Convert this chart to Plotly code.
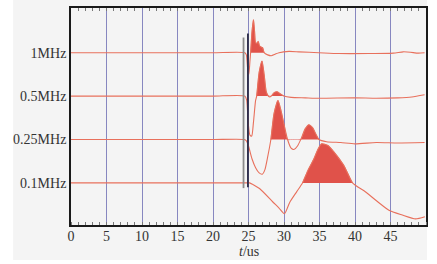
import plotly.graph_objects as go
import numpy as np

# ---------------- data ----------------
band_labels = ["0.1MHz", "0.25MHz", "0.5MHz", "1MHz"]
band_levels = [1, 2, 3, 4]

t_1m = [0, 10, 20, 24.5, 24.7, 24.9, 25.05, 25.2, 25.3, 25.5, 25.7, 25.85, 26.0, 26.2, 26.37, 26.55, 26.75, 26.97, 27.2,
        27.7, 28.2, 28.8, 29.3, 30.7, 32.1, 34.9, 37.7, 41.9, 45.4, 46.8, 47.8, 48.9, 49.8]
v_1m = [4.0, 4.0, 4.0, 4.0, 3.95, 3.6, 3.5, 3.8, 4.0, 4.5, 4.76, 4.5, 4.23, 4.22, 4.26, 4.16, 4.13, 4.12, 4.0,
        3.95, 3.93, 3.97, 4.0, 4.03, 4.02, 4.0, 3.98, 3.98, 3.99, 4.02, 4.01, 3.99, 4.0]

t_05m = [0, 10, 20, 24.5, 24.75, 24.95, 25.2, 25.45, 25.7, 26.0, 26.15, 26.5, 26.9, 27.2, 27.5, 27.8, 28.0, 28.2,
         28.6, 29.03, 29.4, 30.0, 31.0, 33.0, 35.0, 40.0, 43.0, 46.0, 48.0, 49.8]
v_05m = [3.0, 3.0, 3.0, 3.0, 2.9, 2.4, 2.1, 2.08, 2.4, 2.9, 3.0, 3.55, 3.81, 3.5, 3.1, 3.0, 2.98, 3.0,
         3.08, 3.1, 3.06, 3.0, 2.97, 2.96, 2.95, 2.96, 2.95, 2.96, 2.98, 3.03]

t_025m = [0, 10, 20, 24.4, 24.7, 25.0, 25.5, 26.0, 26.5, 26.93, 27.3, 27.7, 28.15, 28.6, 29.15, 29.6, 30.0, 30.5,
          31.0, 31.4, 31.9, 32.36, 33.0, 33.5, 34.0, 34.5, 34.92, 36.0, 38.0, 40.0, 43.0, 46.0, 49.8]
v_025m = [2.0, 2.0, 2.0, 2.0, 1.97, 1.85, 1.55, 1.35, 1.23, 1.2, 1.3, 1.6, 2.0, 2.6, 2.9, 2.65, 2.35, 2.0,
          1.8, 1.77, 1.85, 2.0, 2.25, 2.34, 2.28, 2.12, 2.0, 1.95, 1.93, 1.9, 1.93, 1.92, 1.93]

t_01m = [0, 10, 20, 25.0, 25.15, 26.55, 28.43, 29.3, 30.06, 30.8, 31.8, 32.6, 33.4, 34.2, 34.8, 35.3, 36.2, 37.0,
         38.4, 39.65, 41.5, 44.78, 46.66, 48.53, 49.84]
v_01m = [1.0, 1.0, 1.0, 1.0, 1.0, 0.87, 0.56, 0.42, 0.29, 0.55, 0.8, 1.0, 1.3, 1.55, 1.78, 1.9, 1.86, 1.72,
         1.41, 1.0, 0.79, 0.37, 0.26, 0.17, 0.22]

# intervals (t, us) where the positive lobes are shaded
fill_1m = [25.3, 27.2]
fill_05m = [26.15, 30.0]
fill_025m = [28.15, 34.92]
fill_01m = [32.6, 39.65]

# arrival markers (t, us) with their vertical extents
marker_t = [24.3, 24.92]
marker_lo = [0.88, 0.9]
marker_hi = [4.35, 4.44]

x_ticks = list(range(0, 50, 5))

# ---------------- figure ----------------
LINE = "#e8705c"
FILL = "#e0524a"

fig = go.Figure()

series = [(t_1m, v_1m, 4, fill_1m), (t_05m, v_05m, 3, fill_05m),
          (t_025m, v_025m, 2, fill_025m), (t_01m, v_01m, 1, fill_01m)]

for t, v, base, (a, b) in series:
    t = np.array(t, float)
    v = np.array(v, float)
    m = (t >= a) & (t <= b)
    ft = np.concatenate([[a], t[m], [b]])
    fv = np.concatenate([[base], np.maximum(v[m], base), [base]])
    fig.add_trace(go.Scatter(x=ft, y=fv, mode="lines", fill="toself", fillcolor=FILL,
                             line=dict(color=FILL, width=0.5, shape="spline", smoothing=0.6),
                             hoverinfo="skip", showlegend=False))
    fig.add_trace(go.Scatter(x=t, y=v, mode="lines",
                             line=dict(color=LINE, width=1.1, shape="spline", smoothing=0.6),
                             showlegend=False))

mk_colors = ["#8a8a8a", "#2c2c48"]
for xt, lo, hi, c in zip(marker_t, marker_lo, marker_hi, mk_colors):
    fig.add_trace(go.Scatter(x=[xt, xt], y=[lo, hi], mode="lines",
                             line=dict(color=c, width=1.8), showlegend=False))

# invisible trace bound to the top axis so its minor ticks are drawn
fig.add_trace(go.Scatter(x=[0, 50], y=[1, 1], xaxis="x2", mode="lines",
                         line=dict(width=0), opacity=0, hoverinfo="skip", showlegend=False))

serif = "'Liberation Serif', 'Times New Roman', Times, serif"

fig.update_layout(
    width=437, height=264,
    margin=dict(l=71, r=11, t=8, b=39, autoexpand=False),
    paper_bgcolor="#ffffff",
    plot_bgcolor="#f6f6f6",
    font=dict(family=serif, size=14, color="#333333"),
    xaxis=dict(range=[0, 50], tickvals=x_ticks, ticks="", showgrid=True, automargin=False,
               gridcolor="#8787c0", gridwidth=1, zeroline=False, ticklabelstandoff=-3,
               showline=True, linecolor="#1a1a1a", linewidth=1.6, mirror=True,
               minor=dict(dtick=1, ticks="inside", ticklen=3, tickcolor="#777777", showgrid=False),
               tickfont=dict(family=serif, size=14, color="#333333")),
    xaxis2=dict(range=[0, 50], overlaying="x", side="top", showticklabels=False, ticks="",
                showgrid=False, zeroline=False, showline=False, automargin=False,
                minor=dict(dtick=1, ticks="inside", ticklen=3, tickcolor="#777777", showgrid=False)),
    yaxis=dict(range=[0.03, 5.03], tickvals=band_levels, ticktext=band_labels, ticks="",
               showgrid=False, zeroline=False, automargin=False,
               showline=True, linecolor="#1a1a1a", linewidth=1.6, mirror=True,
               tickfont=dict(family=serif, size=14, color="#333333")),
    shapes=[dict(type="rect", xref="paper", yref="paper", x0=-0.163, x1=1.003, y0=-0.161, y1=1.04,
                 fillcolor="#f4f4f4", line=dict(width=0), layer="below")],
    annotations=[dict(text="<i>t</i>/us", xref="paper", yref="paper", x=0.5, y=-0.122,
                      xanchor="center", yanchor="middle", showarrow=False,
                      font=dict(family=serif, size=14, color="#333333"))],
)

fig.write_html("out.html", config={"displayModeBar": False},
               post_script="document.body.style.margin='0';")
